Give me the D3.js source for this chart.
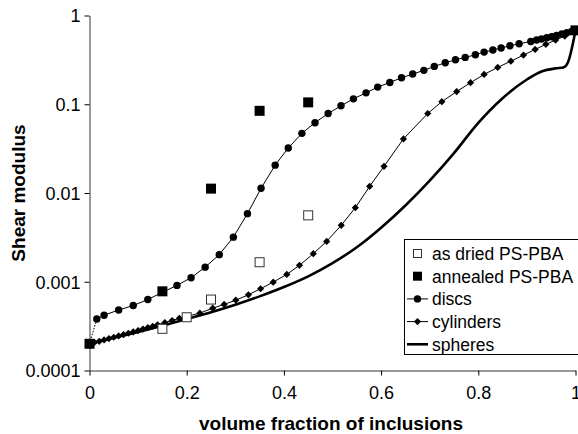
<!DOCTYPE html>
<html>
<head>
<meta charset="utf-8">
<script src="https://cdn.jsdelivr.net/npm/d3@7"></script>
<style>
  html, body { margin: 0; padding: 0; background: #fff; }
  svg { display: block; font-family: "Liberation Sans", Arial, sans-serif; }
</style>
</head>
<body>
<svg id="chart" width="578" height="434"></svg>
<script>
// ---------------- data ----------------
const xTicks = [0, 0.2, 0.4, 0.6, 0.8, 1];
const xTickLabels = ["0", "0.2", "0.4", "0.6", "0.8", "1"];
const yTicks = [0.0001, 0.001, 0.01, 0.1, 1];
const yTickLabels = ["0.0001", "0.001", "0.01", "0.1", "1"];

const discsPhi = [0, 0.015, 0.03, 0.06, 0.09, 0.12, 0.15, 0.18, 0.209, 0.238, 0.267, 0.296, 0.325, 0.353, 0.382, 0.409, 0.437, 0.464, 0.491, 0.5175, 0.543, 0.569, 0.593, 0.618, 0.642, 0.665, 0.688, 0.7095, 0.732, 0.753, 0.773, 0.794, 0.812, 0.83, 0.847, 0.865, 0.884, 0.908, 0.92, 0.93, 0.941, 0.951, 0.961, 0.972, 0.982, 0.992, 1.0];
const discsG = [0.0002, 0.00038, 0.00042, 0.00048, 0.00054, 0.00063, 0.00076, 0.00091, 0.00111, 0.00146, 0.00202, 0.00318, 0.00585, 0.0113, 0.0206, 0.0322, 0.047, 0.062, 0.0787, 0.096, 0.115, 0.1345, 0.156, 0.176, 0.199, 0.219, 0.241, 0.267, 0.293, 0.317, 0.337, 0.361, 0.387, 0.408, 0.43, 0.456, 0.48, 0.51, 0.529, 0.543, 0.562, 0.577, 0.597, 0.618, 0.64, 0.662, 0.68];

const cylPhi = [0, 0.01, 0.02, 0.03, 0.04, 0.05, 0.06, 0.07, 0.08, 0.09, 0.10, 0.11, 0.12, 0.13, 0.14, 0.155, 0.17, 0.185, 0.2, 0.227, 0.2535, 0.277, 0.301, 0.327, 0.352, 0.378, 0.406, 0.432, 0.4605, 0.488, 0.518, 0.547, 0.5765, 0.606, 0.646, 0.696, 0.725, 0.7555, 0.784, 0.812, 0.84, 0.867, 0.893, 0.917, 0.939, 0.959, 0.978, 1.0];
const cylG = [0.0002, 0.000207, 0.000213, 0.000221, 0.000229, 0.000237, 0.000245, 0.000254, 0.000263, 0.000272, 0.000282, 0.000293, 0.000304, 0.000315, 0.000327, 0.000346, 0.000366, 0.000387, 0.000407, 0.000443, 0.000504, 0.000555, 0.00062, 0.000713, 0.000834, 0.00099, 0.00121, 0.00153, 0.00207, 0.00285, 0.00432, 0.00684, 0.0119, 0.02, 0.0407, 0.0787, 0.107, 0.139, 0.175, 0.217, 0.26, 0.306, 0.358, 0.415, 0.473, 0.528, 0.587, 0.676];

const sphPhi = [0, 0.05, 0.1, 0.15, 0.2, 0.25, 0.3, 0.35, 0.4, 0.45, 0.5, 0.55, 0.6, 0.65, 0.7, 0.75, 0.8, 0.85, 0.9, 0.93, 0.96, 0.975, 0.985, 1.0];
const sphG = [0.0002, 0.000234, 0.000272, 0.00032, 0.00038, 0.000452, 0.00055, 0.000684, 0.000871, 0.00115, 0.00162, 0.00245, 0.00407, 0.00724, 0.0138, 0.0282, 0.0617, 0.117, 0.19, 0.234, 0.254, 0.26, 0.302, 0.676];

const asDriedPhi = [0.15, 0.2, 0.25, 0.35, 0.45];
const asDriedG = [0.000295, 0.000398, 0.00063, 0.00166, 0.0056];

const annealedPhi = [0, 0.15, 0.25, 0.35, 0.45, 1.0];
const annealedG = [0.0002, 0.00078, 0.0112, 0.0843, 0.105, 0.68];

const legendLabels = ["as dried PS-PBA", "annealed PS-PBA", "discs", "cylinders", "spheres"];
const xTitle = "volume fraction of inclusions";
const yTitle = "Shear modulus";

// ---------------- layout ----------------
const svg = d3.select("#chart");
const x = d3.scaleLinear().domain([0, 1]).range([89.5, 575.5]);
const y = d3.scaleLog().domain([0.0001, 1]).range([370.5, 15.5]);
const zip = (a, b) => a.map((v, i) => [v, b[i]]);

const discs = zip(discsPhi, discsG);
const cyl = zip(cylPhi, cylG);
const sph = zip(sphPhi, sphG);
const asDried = zip(asDriedPhi, asDriedG);
const annealed = zip(annealedPhi, annealedG);

// axes
const xAxis = d3.axisBottom(x).tickValues(xTicks)
  .tickFormat((d, i) => xTickLabels[i]).tickSizeInner(5).tickSizeOuter(0).tickPadding(11);
const yAxis = d3.axisLeft(y).tickValues(yTicks)
  .tickFormat((d, i) => yTickLabels[i]).tickSizeInner(5).tickSizeOuter(0).tickPadding(4);

const gx = svg.append("g").attr("transform", "translate(0,370.5)").call(xAxis);
const gy = svg.append("g").attr("transform", "translate(89.5,0)").call(yAxis);
[gx, gy].forEach(g => {
  g.selectAll("path.domain").attr("stroke", "#333").attr("stroke-width", 1);
  g.selectAll(".tick line").attr("stroke", "#000");
  g.selectAll(".tick text").attr("font-size", 18).attr("fill", "#000")
    .attr("font-family", "'Liberation Sans', Arial, sans-serif");
});
gy.selectAll(".tick text").attr("dy", "0.36em");

// titles
svg.append("text")
  .attr("x", 331).attr("y", 430)
  .attr("text-anchor", "middle").attr("font-weight", "bold").attr("font-size", 19)
  .text(xTitle);
svg.append("text")
  .attr("transform", "translate(18,193) rotate(-90)")
  .attr("text-anchor", "middle").attr("dy", "0.36em").attr("font-weight", "bold").attr("font-size", 19)
  .text(yTitle);

// lines
const line = d3.line().x(d => x(d[0])).y(d => y(d[1]));
const smooth = d3.line().x(d => x(d[0])).y(d => y(d[1])).curve(d3.curveMonotoneX);

svg.append("path").datum(sph).attr("d", smooth)
  .attr("fill", "none").attr("stroke", "#000").attr("stroke-width", 2.6).attr("stroke-linejoin", "round");

svg.append("path").datum(cyl).attr("d", line)
  .attr("fill", "none").attr("stroke", "#000").attr("stroke-width", 1);

svg.append("path").datum(discs.slice(0, 2)).attr("d", line)
  .attr("fill", "none").attr("stroke", "#000").attr("stroke-width", 1).attr("stroke-dasharray", "1.5,1.5");
svg.append("path").datum(discs.slice(1)).attr("d", line)
  .attr("fill", "none").attr("stroke", "#000").attr("stroke-width", 1);

const diamond = "M0,-3.6L3.6,0L0,3.6L-3.6,0Z";
svg.append("g").selectAll("path").data(cyl).join("path")
  .attr("d", diamond)
  .attr("transform", d => `translate(${x(d[0])},${y(d[1])})`)
  .attr("fill", "#000");

svg.append("g").selectAll("circle").data(discs.slice(1)).join("circle")
  .attr("cx", d => x(d[0])).attr("cy", d => y(d[1])).attr("r", 3.7)
  .attr("fill", "#000");

// experimental points
svg.append("g").selectAll("rect").data(asDried).join("rect")
  .attr("x", d => x(d[0]) - 4.5).attr("y", d => y(d[1]) - 4.5)
  .attr("width", 9).attr("height", 9)
  .attr("fill", "#fff").attr("stroke", "#333").attr("stroke-width", 1);

svg.append("g").selectAll("rect").data(annealed).join("rect")
  .attr("x", d => x(d[0]) - 5).attr("y", d => y(d[1]) - 5)
  .attr("width", 10).attr("height", 10)
  .attr("fill", "#000");

// legend
const lg = svg.append("g");
lg.append("rect").attr("x", 404.5).attr("y", 239.5).attr("width", 180).attr("height", 115)
  .attr("fill", "#fff").attr("stroke", "#000").attr("stroke-width", 1);
const rowY = i => 253.5 + i * 22.7;
const symX = 417.5;
legendLabels.forEach((lab, i) => {
  const cy = rowY(i);
  if (i === 0) {
    lg.append("rect").attr("x", symX - 4).attr("y", cy - 4).attr("width", 8).attr("height", 8)
      .attr("fill", "#fff").attr("stroke", "#333");
  } else if (i === 1) {
    lg.append("rect").attr("x", symX - 4.5).attr("y", cy - 4.5).attr("width", 9).attr("height", 9)
      .attr("fill", "#000");
  } else {
    lg.append("line").attr("x1", 407).attr("x2", 428).attr("y1", cy).attr("y2", cy)
      .attr("stroke", "#000").attr("stroke-width", i === 4 ? 2.6 : 1);
    if (i === 2) lg.append("circle").attr("cx", symX).attr("cy", cy).attr("r", 3.7).attr("fill", "#000");
    if (i === 3) lg.append("path").attr("d", diamond).attr("transform", `translate(${symX},${cy})`).attr("fill", "#000");
  }
  lg.append("text").attr("x", 432).attr("y", cy).attr("dy", "0.36em")
    .attr("font-size", 17.5).text(lab);
});
</script>
</body>
</html>
